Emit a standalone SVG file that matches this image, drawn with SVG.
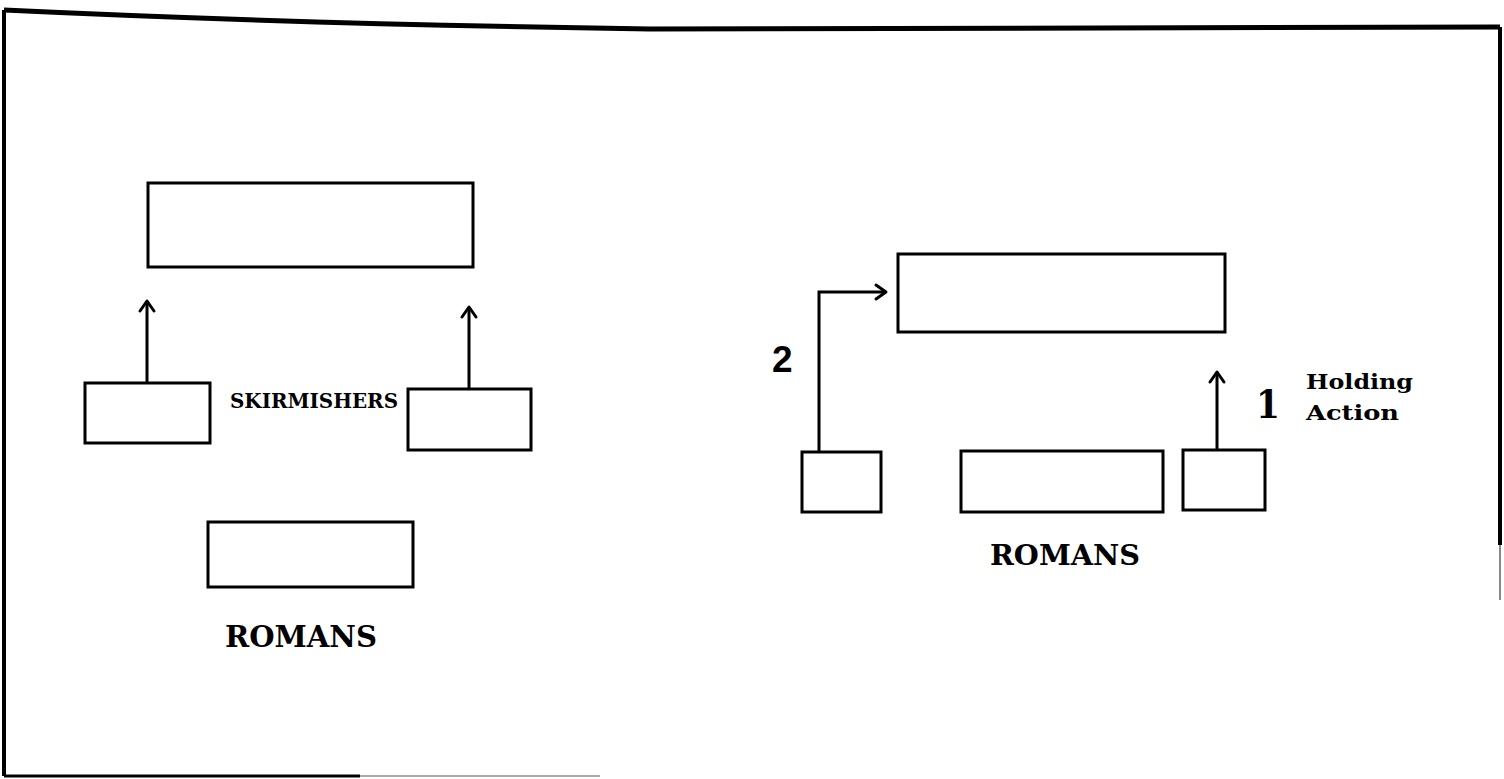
<svg xmlns="http://www.w3.org/2000/svg" width="1504" height="779" viewBox="0 0 1504 779">
<style>
.box{fill:none;stroke:#000;stroke-width:3}
.ln{fill:none;stroke:#000;stroke-width:3}
.frame{fill:none;stroke:#000;stroke-width:4}
.slab{font-family:"DejaVu Serif","Liberation Serif",serif;font-weight:bold;fill:#000}
.serif{font-family:"Liberation Serif","Times New Roman",serif;font-weight:bold;fill:#000}
.sans{font-family:"Liberation Sans",Arial,sans-serif;font-weight:bold;fill:#000}
</style>
<defs>
<marker id="ah" viewBox="0 0 20 20" refX="16" refY="10" markerWidth="20" markerHeight="20" markerUnits="userSpaceOnUse" orient="auto">
<polyline points="6,3 16,10 6,17" fill="none" stroke="#000" stroke-width="3" stroke-linecap="round" stroke-linejoin="round"/>
</marker>
</defs>
<rect width="1504" height="779" fill="#fff"/>
<g id="frame">
<path d="M4,10 Q300,24 650,29 L1500,27" stroke="#000" stroke-width="5" fill="none"/>
<path class="frame" d="M4,776 L4,10 M1500,27 L1500,545"/>
<path d="M1500,545 L1500,600" stroke="#888" stroke-width="2" fill="none"/>
<path d="M4,776 L360,776" stroke="#000" stroke-width="3" fill="none"/>
<path d="M360,776 L600,776" stroke="#aaa" stroke-width="2" fill="none"/>
</g>
<g id="connectors">
<line class="ln" x1="147" y1="383" x2="147" y2="301" marker-end="url(#ah)"/>
<line class="ln" x1="469" y1="389" x2="469" y2="307" marker-end="url(#ah)"/>
<polyline class="ln" points="819,452 819,292 886,292" marker-end="url(#ah)"/>
<line class="ln" x1="1217" y1="450" x2="1217" y2="372" marker-end="url(#ah)"/>
</g>
<g id="left-enemy"><rect class="box" x="148" y="183" width="325" height="84"/></g>
<g id="left-skirmisher-1"><rect class="box" x="85" y="383" width="125" height="60"/></g>
<g id="left-skirmisher-2"><rect class="box" x="408" y="389" width="123" height="61"/></g>
<g id="left-romans-box"><rect class="box" x="208" y="522" width="205" height="65"/></g>
<g id="label-skirmishers"><text class="slab" x="230" y="408" font-size="20" textLength="168" lengthAdjust="spacingAndGlyphs">SKIRMISHERS</text></g>
<g id="label-romans-left"><text class="slab" x="225" y="647" font-size="30" textLength="152" lengthAdjust="spacingAndGlyphs">ROMANS</text></g>
<g id="right-enemy"><rect class="box" x="898" y="254" width="327" height="78"/></g>
<g id="right-box-1"><rect class="box" x="802" y="452" width="79" height="60"/></g>
<g id="right-box-2"><rect class="box" x="961" y="451" width="202" height="61"/></g>
<g id="right-box-3"><rect class="box" x="1183" y="450" width="82" height="60"/></g>
<g id="label-romans-right"><text class="slab" x="990" y="565" font-size="28" textLength="150" lengthAdjust="spacingAndGlyphs">ROMANS</text></g>
<g id="label-2"><text class="sans" x="772" y="372" font-size="37">2</text></g>
<g id="label-1"><text class="slab" x="1256" y="418" font-size="40" textLength="24" lengthAdjust="spacingAndGlyphs">1</text></g>
<g id="label-holding"><text class="slab" x="1306" y="389" font-size="21" textLength="107" lengthAdjust="spacingAndGlyphs">Holding</text><text class="slab" x="1306" y="420" font-size="21" textLength="93" lengthAdjust="spacingAndGlyphs">Action</text></g>
</svg>
